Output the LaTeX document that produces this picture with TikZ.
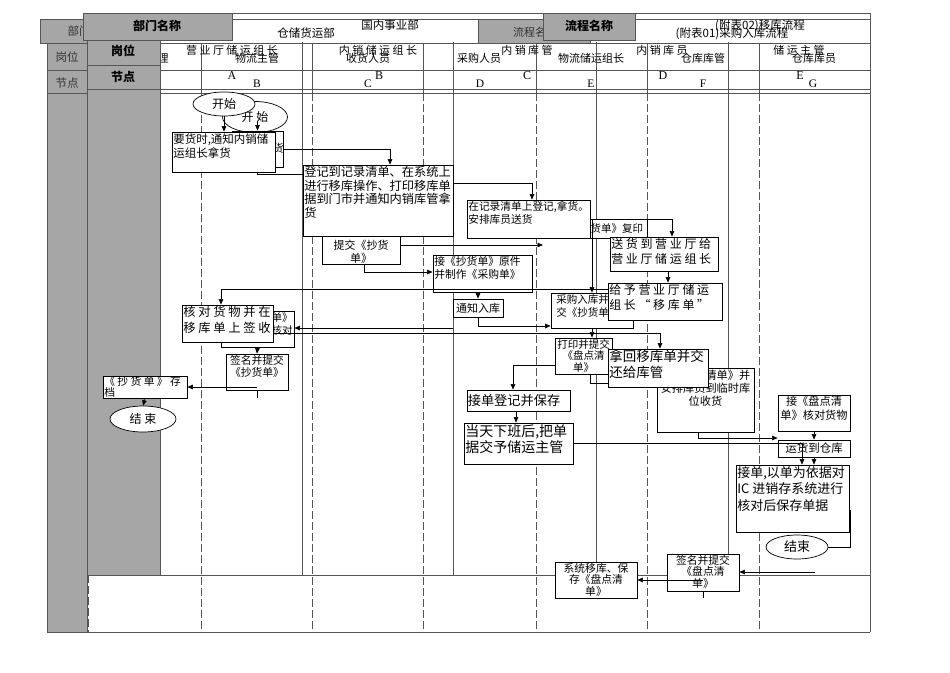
\documentclass[tikz,border=0pt]{standalone}
\usepackage{fontspec}
\setmainfont{Noto Sans CJK SC}
\newfontfamily\cjksp[LetterSpace=22]{Noto Sans CJK SC}
\newfontfamily\latinf{Liberation Serif}
\usetikzlibrary{arrows.meta,fit,shapes.geometric}
\definecolor{hdr}{RGB}{166,166,166}
\definecolor{ln}{RGB}{85,85,85}
\newcommand\fsz[2]{\fontsize{#1}{#2}\selectfont}
\newcommand\mybox[5]{\node[bbox, fit={(#2,#3) (#4,#5)}] (#1) {};}
\tikzset{
  bbox/.style={draw=black, fill=white, line width=0.8pt, inner sep=0pt},
  tl/.style={anchor=north west, inner xsep=1.5pt, inner ysep=1.5pt, align=left},
  tc/.style={anchor=north, inner xsep=1pt, inner ysep=1.5pt, align=center},
  arr/.style={line width=0.6pt, -{Triangle[length=5.5pt,width=4.5pt]}},
  con/.style={line width=0.6pt},
  tab/.style={draw=ln, line width=0.7pt},
  dsh/.style={draw=ln, line width=0.7pt, dash pattern=on 8pt off 3pt},
  gcell/.style={fill=hdr, draw=ln, line width=0.7pt},
  el/.style={draw=black, fill=white, ellipse, line width=0.7pt, inner sep=0pt}
}
\begin{document}
\begin{tikzpicture}[x=1pt,y=-1pt]
\useasboundingbox (0,0) rectangle (950,672);
\fill[white] (0,0) rectangle (950,672);

% ---------- back table (采购入库) ----------
\path[gcell] (40,19) rectangle (120,43);
\path[gcell] (478,19) rectangle (590,43);
\path[gcell] (47,43) rectangle (87,632);
\draw[tab] (120,19) -- (870,19);
\draw[tab] (40,43) -- (870,43);
\draw[tab] (47,70) -- (870,70);
\draw[tab] (47,93) -- (870,93);
\draw[tab] (47,632) -- (870,632);
\draw[tab] (870,13) -- (870,632);
\foreach \x in {201,312,423,536,647,759} {\draw[tab] (\x,43) -- (\x,93); \draw[dsh] (\x,93) -- (\x,632);}
\draw[dsh] (88,575) -- (88,632);
\node[font=\fsz{11.5}{13}, text=black!80, anchor=west] (ha1) at (64,31) {部门名称};
\node[font=\fsz{11.5}{13}, text=black!80] (ha2) at (67,57) {岗位};
\node[font=\fsz{11.5}{13}, text=black!80] (ha3) at (67,83) {节点};
\node[font=\fsz{11}{13}, text=black!80] (ha4) at (535,32) {流程名称};
\node[font=\fsz{11.5}{13}] (ha5) at (306,33) {仓储货运部};
\node[font=\fsz{11.5}{13}] (ha6) at (732,34) {(附表01)采购入库流程};
\foreach \x/\t [count=\i] in {163/理, 257/物流主管, 368/收货人员, 479/采购人员, 591/物流储运组长, 703/仓库库管, 814/仓库库员}
  \node[font=\fsz{11}{13}] (pa\i) at (\x,58) {\t};
\foreach \x/\t [count=\i] in {257/B,368/C,480/D,591/E,703/F,813/G}
  \node[font=\latinf\fsz{11.5}{13}] (na\i) at (\x,84) {\t};

% ---------- front table (移库) ----------
\path[gcell] (83,13) rectangle (232,40);
\path[gcell] (543,13) rectangle (635,40);
\path[gcell] (87,40) rectangle (160,575);
\draw[tab] (87,65) -- (160,65);
\draw[tab] (87,89) -- (870,89);
\draw[tab] (232,13) -- (543,13) (635,13) -- (870,13);
\foreach \x in {302,453,596,728} \draw[tab] (\x,42) -- (\x,575);
\draw[tab] (87,575) -- (870,575);
\node[font=\bfseries\fsz{12}{14}] (hb1) at (157,26) {部门名称};
\node[font=\bfseries\fsz{12}{14}] (hb2) at (589,26) {流程名称};
\node[font=\bfseries\fsz{12}{14}] (hb3) at (123,51) {岗位};
\node[font=\bfseries\fsz{12}{14}] (hb4) at (123,77) {节点};
\node[font=\fsz{11.5}{13}] (hb5) at (390,25) {国内事业部};
\node[font=\fsz{11.5}{13}] (hb6) at (760,26) {(附表02)移库流程};
\foreach \x/\t [count=\i] in {232/营业厅储运组长, 378/内销储运组长, 527/内销库管, 662/内销库员, 799/储运主管}
  \node[font=\cjksp\fsz{11}{13}] (pb\i) at (\x,50) {\t};
\foreach \x/\t [count=\i] in {232/A,379/B,527/C,663/D,800/E}
  \node[font=\latinf\fsz{12}{13}] (nb\i) at (\x,76) {\t};

% ---------- back flow boxes ----------
\node[el, minimum width=65pt, minimum height=31pt, font=\fsz{12}{14}] (s2) at (255,117) {开 始};
\mybox{b0}{232}{131}{283}{167}
\node[font=\fsz{11}{13}] (b0t) at (278,148) {货};
\mybox{b1}{322}{205}{400}{264}
\node[font=\fsz{11}{13}, align=center] (b1t) at ([yshift=-17pt]b1.center) {提交《抄货\\单》};
\mybox{b2}{548}{219}{647}{238}
\node[anchor=east, font=\fsz{10.5}{12}, inner sep=1pt] (b2t) at ([xshift=-3pt]b2.east) {《抄货单》复印};
\mybox{b3}{433}{255}{532}{292}
\node[tl, font=\fsz{10.8}{13.5}] (b3t) at (b3.north west) {接《抄货单》原件\\并制作《采购单》};
\mybox{b4}{453}{299}{503}{317}
\node[font=\fsz{11}{13}] (b4t) at (b4) {通知入库};
\mybox{b5}{551}{293}{633}{328}
\node[tl, font=\fsz{10.5}{13}] (b5t) at ([xshift=4pt]b5.north west) {采购入库并提\\交《抄货单》};
\mybox{b6}{221}{311}{294}{347}
\node[anchor=north east, align=right, inner sep=1.5pt, font=\fsz{10.5}{13}] (b6t) at (b6.north east) {接《抄货单》\\进行核对};
\mybox{b7}{226}{354}{288}{390}
\node[tc, font=\fsz{10.8}{12.5}] (b7t) at (b7.north) {签名并提交\\《抄货单》};
\mybox{b8}{103}{376}{187}{398}
\node[tl, font=\cjksp\fsz{10.8}{11.5}, inner ysep=0.5pt] (b8t) at (b8.north west) {《抄货单》存\\档};
\node[el, minimum width=66pt, minimum height=26pt, font=\fsz{12}{14}] (s3) at (143,419) {结 束};
\mybox{b9}{555}{338}{612}{374}
\node[tc, font=\fsz{10.5}{11.5}] (b9t) at (b9.north) {打印并提交\\《盘点清\\单》};
\mybox{b10}{657}{368}{754}{432}
\node[tc, font=\fsz{11.2}{13}] (b10t) at ([yshift=-1pt]b10.north) {接《盘点清单》并\\安排库员到临时库\\位收货};
\mybox{b11}{467}{390}{570}{411}
\node[anchor=west, font=\fsz{13.2}{15}, inner sep=1pt] (b11t) at (b11.west) {接单登记并保存};
\mybox{b12}{778}{395}{850}{431}
\node[tc, font=\fsz{11.2}{13.5}] (b12t) at (b12.north) {接《盘点清\\单》核对货物};
\mybox{b13}{778}{440}{850}{457}
\node[font=\fsz{11.5}{13}] (b13t) at (b13) {运货到仓库};
\mybox{b14}{667}{554}{739}{591}
\node[tc, font=\fsz{10.8}{11.5}] (b14t) at (b14.north) {签名并提交\\《盘点清\\单》};
\mybox{b15}{555}{562}{637}{598}
\node[tc, font=\fsz{10.8}{11.5}] (b15t) at (b15.north) {系统移库、保\\存《盘点清\\单》};

% ---------- back flow connectors ----------
\draw[arr] ([yshift=10pt]b0.north) -- (b0.north);
\coordinate (e1) at (543,245);
\draw[arr] (b1.east |- e1) -- (e1);
\draw[arr] ([xshift=3pt]b1.south) |- ([yshift=1.5pt]b3.west);
\draw[arr] (b5.north |- b2.north) -- (b5.north);
\draw[arr] ([xshift=-4.5pt]b3.south) -- (b4.north);
\draw[arr] (b4.south) |- ([yshift=-15.5pt]b5.west);
\coordinate (e2) at (453,328);
\draw[arr] (e2) -- (e2 -| b6.east);
\draw[arr] (b6.south) -- (b7.north);
\draw[arr] (b7.center |- b8.east) -- (b8.east);
\draw[con] (b7.south) -- ++(0,8);
\draw[arr] (b8.south) -- (s3.north);
\draw[arr] (b5.south) -- (b5.south |- b9.north);
\draw[arr] ([yshift=-9pt]b9.west) -| ([xshift=-5.5pt]b11.north);
\draw[con] ([xshift=6.5pt]b9.south) |- ([yshift=17pt]b10.west);
\draw[arr] ([xshift=-7.5pt]b10.south) |- ([yshift=10.5pt]b13.west);
\draw[arr] (b12.south) -- (b13.north);
\coordinate (e3) at (815,572);
\draw[arr] (e3) -- (e3 -| b14.east);
\draw[arr] (b14.center |- b15.east) -- (b15.east);
\draw[con] (b14.south) -- ++(0,7);

% ---------- front flow boxes ----------
\node[el, minimum width=62pt, minimum height=24pt, font=\fsz{12}{14}] (s1) at (224,104) {开始};
\mybox{f0}{172}{132}{275}{172}
\node[tl, font=\fsz{11.5}{14}] (f0t) at (f0.north west) {要货时,通知内销储\\运组长拿货};
\mybox{bb}{303}{165}{453}{236}
\node[tl, font=\fsz{12.2}{13.6}] (bbt) at (bb.north west) {登记到记录清单、在系统上\\进行移库操作、打印移库单\\据到门市并通知内销库管拿\\货};
\mybox{f1}{467}{200}{590}{238}
\node[tl, font=\fsz{10.7}{13}] (f1t) at (f1.north west) {在记录清单上登记,拿货。\\安排库员送货};
\mybox{f2}{610}{237}{718}{271}
\node[tl, font=\cjksp\fsz{12}{15}] (f2t) at (f2.north west) {送货到营业厅给\\营业厅储运组长};
\mybox{f3}{608}{283}{722}{320}
\node[tl, font=\cjksp\fsz{12}{15}] (f3t) at (f3.north west) {给予营业厅储运\\组长“移库单”};
\mybox{f4}{182}{305}{273}{342}
\node[tl, font=\cjksp\fsz{12.3}{15.5}] (f4t) at (f4.north west) {核对货物并在\\移库单上签收};
\mybox{f5}{608}{349}{708}{387}
\node[tl, font=\fsz{13.5}{16}] (f5t) at (f5.north west) {拿回移库单并交\\还给库管};
\mybox{f6}{464}{423}{573}{464}
\node[tl, font=\fsz{14}{16}] (f6t) at (f6.north west) {当天下班后,把单\\据交予储运主管};
\mybox{f7}{736}{465}{849}{532}
\node[tl, font=\fsz{13}{16.5}] (f7t) at (f7.north west) {接单,以单为依据对\\IC 进销存系统进行\\核对后保存单据};
\node[el, minimum width=62pt, minimum height=24pt, font=\fsz{13}{15}] (s4) at (797,547) {结束};

% ---------- front flow connectors ----------
\draw[arr] (s1.south) -- (s1.south |- f0.north);
\draw[arr] (b0.east) -| ([xshift=12pt]bb.north);
\draw[con] ([xshift=33.5pt]f0.south) |- ([yshift=-10pt]bb.north west);
\draw[arr] ([yshift=17.5pt]bb.east) -| ([xshift=3.5pt]f1.north);
\draw[arr] (f1.east) -| ([xshift=8pt]f2.north);
\draw[arr] ([xshift=4pt]f2.south) -- ([xshift=3pt]f3.north);
\draw[arr] ([yshift=12.5pt]f3.west) -| ([xshift=-6.5pt]f4.north);
\draw[arr] ([yshift=-9.5pt]f4.east) -| ([xshift=2pt]f5.north);
\draw[arr] ([xshift=-2.5pt]b11.south) -- ([xshift=-2.5pt]f6.north);
\draw[arr] (f6.east) -| ([xshift=9.5pt]f7.north);
\draw[arr] (b13.south) -- (b13.south |- f7.north);
\draw[con] ([yshift=-11.5pt]f7.east) -| ([xshift=22pt]s4.east) -- (s4.east);
\end{tikzpicture}
\end{document}
